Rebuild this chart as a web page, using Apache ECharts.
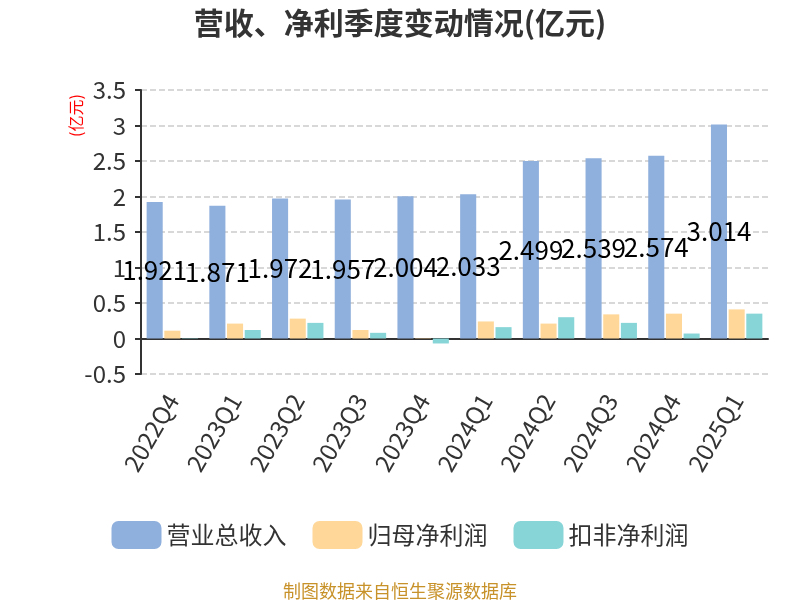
<!DOCTYPE html>
<html><head><meta charset="utf-8">
<script src="https://cdn.jsdelivr.net/npm/echarts@6/dist/echarts.min.js"></script>
<style>html,body{margin:0;padding:0;background:#fff}#c{width:800px;height:600px}</style>
</head><body><div id="c"></div>
<script>
var categories = ['2022Q4','2023Q1','2023Q2','2023Q3','2023Q4','2024Q1','2024Q2','2024Q3','2024Q4','2025Q1'];
var revenue = [1.921,1.871,1.972,1.957,2.004,2.033,2.499,2.539,2.574,3.014];
var netProfit = [0.11,0.21,0.28,0.12,0.005,0.24,0.21,0.34,0.35,0.41];
var deductedProfit = [0.005,0.12,0.22,0.08,-0.07,0.16,0.30,0.22,0.07,0.35];
var seriesNames = ['营业总收入','归母净利润','扣非净利润'];
var colors = ['#8FAFDC','#FFD899','#88D5D8'];
var font = '"Noto Sans CJK SC","Noto Sans",sans-serif';
var chart = echarts.init(document.getElementById('c'));
chart.setOption({
  animation:false,
  color:colors,
  textStyle:{fontFamily:font},
  title:[{text:'营收、净利季度变动情况(亿元)',left:'center',top:3,textStyle:{fontSize:30,fontWeight:'bold',color:'#333',fontFamily:font}},
         {text:'制图数据来自恒生聚源数据库',left:'center',top:577,textStyle:{fontSize:18,fontWeight:'normal',color:'#C8922A',fontFamily:font}}],
  legend:{bottom:46,left:'center',itemWidth:50,itemHeight:28,itemGap:26,textStyle:{fontSize:24,color:'#333'},data:seriesNames},
  grid:{left:141,right:32,top:90,bottom:226,containLabel:false},
  graphic:[{type:'text',x:68,y:137,rotation:Math.PI/2,style:{text:'(亿元)',fill:'#FF0000',font:'16px '+font}}],
  xAxis:{type:'category',data:categories,
    axisLine:{lineStyle:{color:'#333',width:2}},
    axisTick:{lineStyle:{color:'#333',width:2},length:8},
    axisLabel:{rotate:60,fontSize:24,color:'#333',margin:22,interval:0}},
  yAxis:{type:'value',min:-0.5,max:3.5,interval:0.5,
    axisLine:{show:true,lineStyle:{color:'#333',width:2}},
    axisTick:{show:true,lineStyle:{color:'#333',width:2},length:6},
    axisLabel:{fontSize:24,color:'#333',margin:15},
    splitLine:{lineStyle:{type:'dashed',color:'#ccc',width:1.5}}},
  series:[
    {name:seriesNames[0],type:'bar',data:revenue,barGap:'10%',barCategoryGap:'18%',
     label:{show:true,position:'inside',color:'#000',fontSize:26}},
    {name:seriesNames[1],type:'bar',data:netProfit,barGap:'10%',barCategoryGap:'18%'},
    {name:seriesNames[2],type:'bar',data:deductedProfit,barGap:'10%',barCategoryGap:'18%'}
  ]
});
</script></body></html>
